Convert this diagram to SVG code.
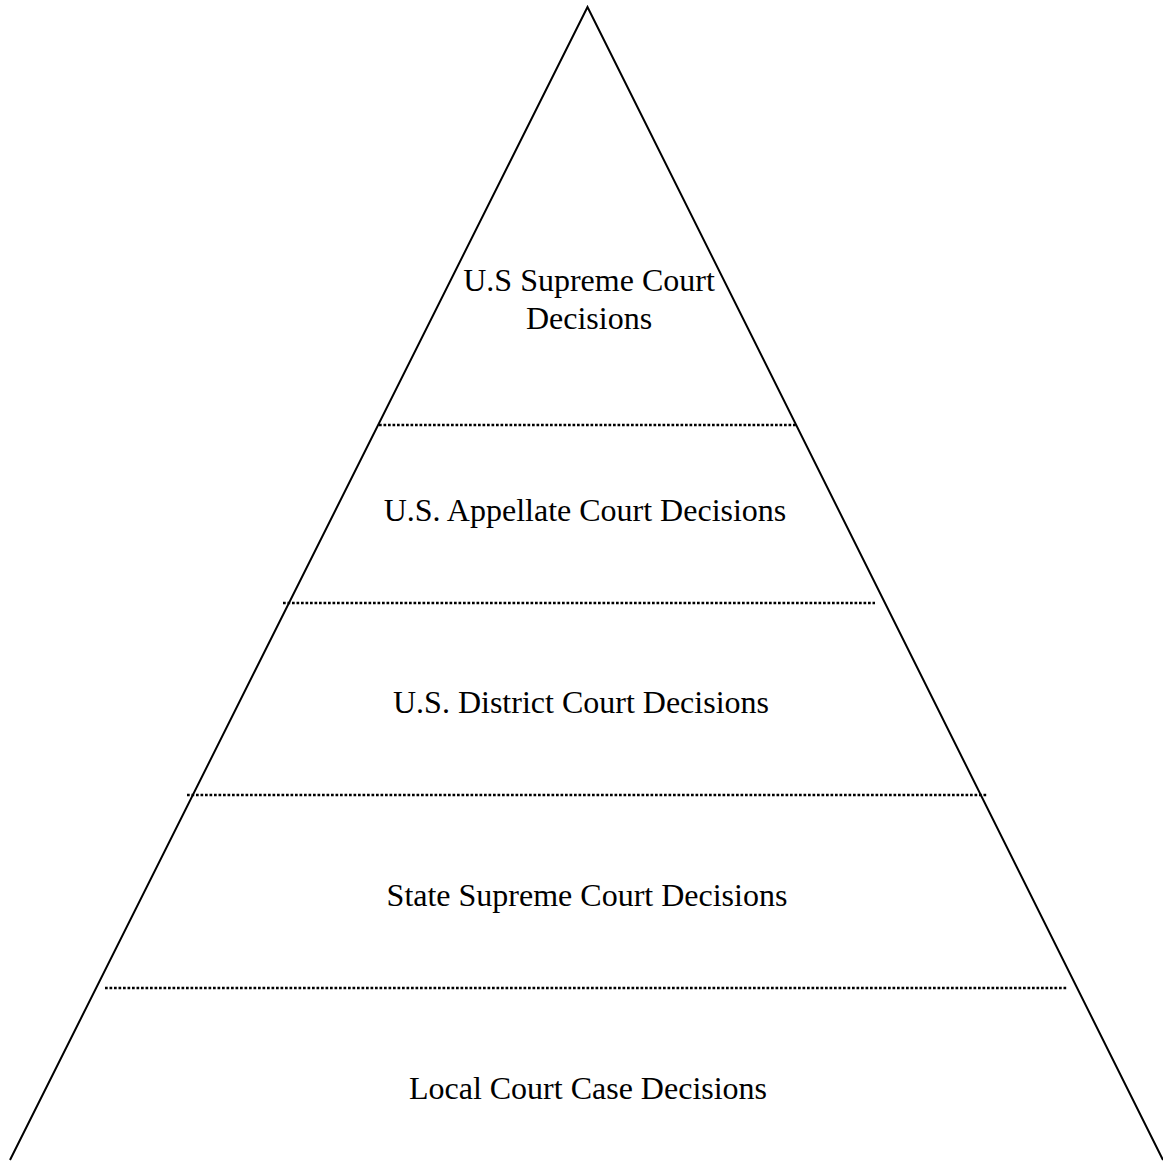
<svg xmlns="http://www.w3.org/2000/svg" width="1163" height="1162" viewBox="0 0 1163 1162">
<style>
.edge{fill:none;stroke:#000;stroke-width:2}
.dot{fill:none;stroke:#000;stroke-width:2.5;stroke-dasharray:2.7 1.8}
.lbl{font-family:"Liberation Serif","Times New Roman",serif;font-size:32px;fill:#000;text-anchor:middle}
</style>
<rect width="1163" height="1162" fill="#fff"/>
<g id="connectors">
<polyline class="edge" points="10,1160 587.5,7 1163,1160"/>
<line class="dot" x1="379" y1="425" x2="796" y2="425"/>
<line class="dot" x1="283" y1="603" x2="875" y2="603"/>
<line class="dot" x1="187" y1="795" x2="987" y2="795"/>
<line class="dot" x1="105" y1="988" x2="1068" y2="988"/>
</g>
<g id="level1"><text class="lbl" x="589" y="291">U.S Supreme Court</text><text class="lbl" x="589" y="329">Decisions</text></g>
<g id="level2"><text class="lbl" x="585" y="521">U.S. Appellate Court Decisions</text></g>
<g id="level3"><text class="lbl" x="581" y="713">U.S. District Court Decisions</text></g>
<g id="level4"><text class="lbl" x="587" y="906">State Supreme Court Decisions</text></g>
<g id="level5"><text class="lbl" x="588" y="1099">Local Court Case Decisions</text></g>
</svg>
